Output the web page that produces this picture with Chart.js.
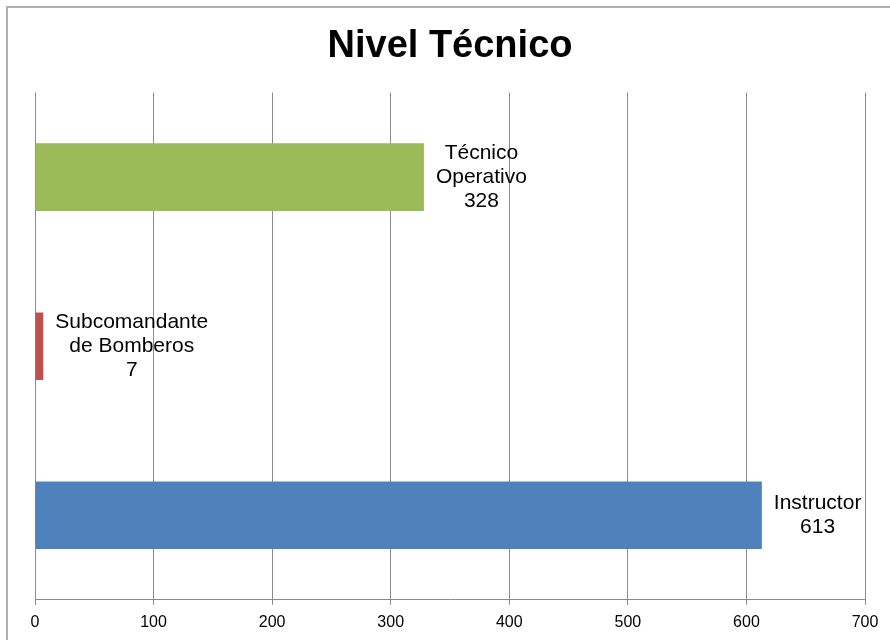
<!DOCTYPE html>
<html>
<head>
<meta charset="utf-8">
<script src="https://cdn.jsdelivr.net/npm/chart.js@4"></script>
<style>
  html, body { margin: 0; padding: 0; background: #ffffff; }
  #wrap { position: relative; width: 890px; height: 640px; }
</style>
</head>
<body>
<div id="wrap"><canvas id="c" width="890" height="640"></canvas></div>
<script>
const titleText = 'Nivel Técnico';
const categories = ['Instructor', 'Subcomandante de Bomberos', 'Técnico Operativo'];
const labelLines = [['Instructor'], ['Subcomandante', 'de Bomberos'], ['Técnico', 'Operativo']];
const values = [613, 7, 328];
const barColors = ['#4F81BD', '#C0504D', '#9BBB59'];
const xTicks = [0, 100, 200, 300, 400, 500, 600, 700];

const FONT = '"Liberation Sans", Arial, sans-serif';

const framePlugin = {
  id: 'frame',
  beforeDraw(chart) {
    const ctx = chart.ctx;
    ctx.save();
    ctx.strokeStyle = '#b0b0b0';
    ctx.lineWidth = 2;
    ctx.beginPath();
    ctx.moveTo(7, 1000);
    ctx.lineTo(7, 7);
    ctx.lineTo(1000, 7);
    ctx.stroke();
    ctx.restore();
  }
};

const valueLabelPlugin = {
  id: 'valueLabels',
  afterDatasetsDraw(chart) {
    const ctx = chart.ctx;
    const meta = chart.getDatasetMeta(0);
    ctx.save();
    ctx.font = '21px ' + FONT;
    ctx.fillStyle = '#000000';
    ctx.textAlign = 'center';
    ctx.textBaseline = 'middle';
    const lh = 24;
    meta.data.forEach((bar, i) => {
      const lines = labelLines[i].concat([String(values[i])]);
      const w = Math.max(...lines.map(l => ctx.measureText(l).width));
      const cx = bar.x + 12 + w / 2;
      const top = bar.y - (lines.length - 1) * lh / 2;
      lines.forEach((l, j) => ctx.fillText(l, cx, top + j * lh));
    });
    ctx.restore();
  }
};

new Chart(document.getElementById('c'), {
  type: 'bar',
  data: {
    labels: categories,
    datasets: [{
      data: values,
      backgroundColor: barColors,
      borderWidth: 0,
      barPercentage: 0.4,
      categoryPercentage: 1.0
    }]
  },
  options: {
    indexAxis: 'y',
    responsive: false,
    animation: false,
    devicePixelRatio: 1,
    layout: { padding: { left: 35, right: 25, top: 0, bottom: 0 } },
    plugins: {
      legend: { display: false },
      tooltip: { enabled: false },
      title: {
        display: true,
        text: titleText,
        color: '#000000',
        font: { family: FONT, size: 38, weight: 'bold' },
        padding: { top: 24, bottom: 23 }
      }
    },
    scales: {
      x: {
        min: 0,
        max: 700,
        afterBuildTicks(scale) { scale.ticks = xTicks.map(v => ({ value: v })); },
        grid: { color: '#8c8c8c', lineWidth: 1, tickLength: 5, drawTicks: true },
        border: { display: true, color: '#8c8c8c', width: 1 },
        ticks: { color: '#000000', font: { family: FONT, size: 16 }, padding: 8, maxRotation: 0 }
      },
      y: {
        reverse: true,
        display: false,
        grid: { display: false }
      }
    }
  },
  plugins: [framePlugin, valueLabelPlugin]
});
</script>
</body>
</html>
